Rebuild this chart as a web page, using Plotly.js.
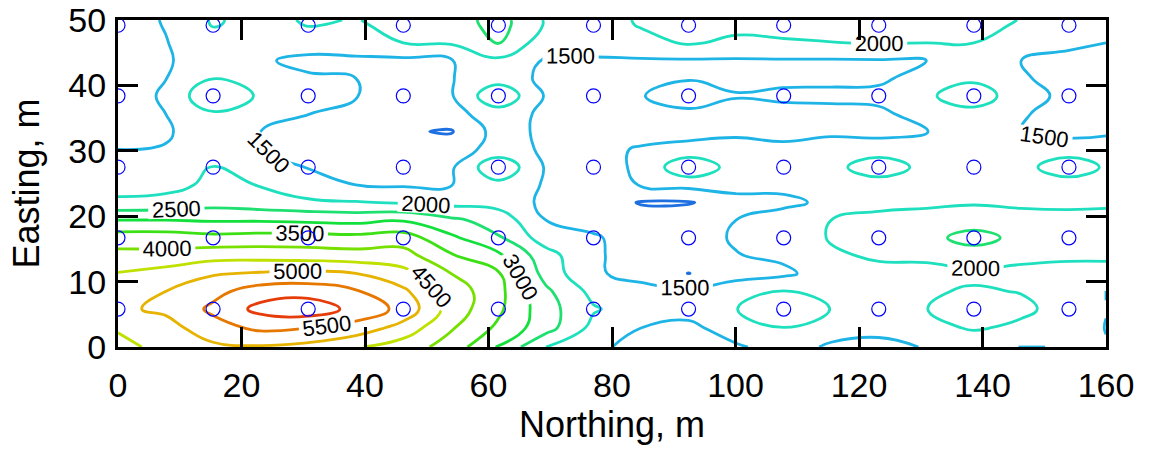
<!DOCTYPE html>
<html>
<head>
<meta charset="utf-8">
<script src="https://cdn.plot.ly/plotly-3.0.1.min.js"></script>
<style>html,body{margin:0;padding:0;background:#fff;} #chart{width:1149px;height:450px;}</style>
</head>
<body>
<div id="chart"></div>
<script>
// Interpolation grid (Northing = x, Easting = y), metres
const gridX = [0, 7.7, 15.4, 23.1, 30.8, 38.5, 46.2, 53.9, 61.6, 69.3, 77, 84.7, 92.4, 100.1, 107.8, 115.5, 123.2, 130.9, 138.6, 146.3, 154, 160];
const gridY = [0, 2.9, 5.8, 8.5, 11.25, 14, 16.7, 19.4, 22.1, 24.8, 27.5, 30.2, 32.95, 35.7, 38.4, 41.1, 43.8, 46.5, 49.2, 50];
// Values, one row per gridY entry
const zRows = [
  [4350, 4650, 4900, 4950, 4850, 4550, 4250, 3800, 2950, 2000, 1600, 1350, 1300, 1450, 1650, 1450, 1400, 1520, 1650, 1490, 1510, 1520],
  [4550, 4800, 5300, 5600, 5500, 5300, 4800, 4050, 3400, 2700, 1850, 1500, 1400, 1700, 1990, 1650, 1600, 1850, 2050, 1900, 1700, 1490],
  [4900, 5100, 5600, 6150, 6300, 5850, 5350, 4300, 3600, 2700, 2050, 1750, 1650, 1990, 2300, 1990, 1800, 1990, 2300, 2100, 1800, 1510],
  [4800, 5000, 5350, 5750, 5800, 5550, 5100, 4300, 3650, 2600, 1850, 1650, 1600, 1800, 2020, 1800, 1750, 1950, 2050, 1980, 1800, 1490],
  [4520, 4700, 4950, 5050, 5100, 5000, 4650, 4000, 3550, 2300, 1560, 1350, 990, 1300, 1400, 1750, 1900, 1850, 1900, 1900, 1900, 1900],
  [4150, 4150, 4300, 4300, 4250, 4200, 4200, 3550, 3100, 2200, 1550, 1350, 1350, 1480, 1600, 1950, 2050, 2100, 2300, 2100, 2050, 2050],
  [3750, 3750, 3650, 3700, 3700, 3650, 3750, 3100, 2550, 1750, 1550, 1300, 1300, 1550, 1750, 2030, 2250, 2380, 2650, 2380, 2200, 2150],
  [3000, 3000, 2950, 2950, 2900, 2850, 2950, 2600, 2300, 1500, 1350, 1200, 1250, 1500, 1700, 2000, 2150, 2200, 2300, 2200, 2150, 2100],
  [2100, 2150, 2300, 2200, 2080, 2030, 1950, 1850, 1800, 1400, 1250, 970, 970, 1200, 1400, 1600, 1850, 1900, 1950, 1900, 1900, 1950],
  [1800, 1850, 2100, 1980, 1700, 1500, 1450, 1480, 1850, 1450, 1350, 1520, 1640, 1800, 1620, 1750, 1640, 1750, 1720, 1800, 1640, 1750],
  [1650, 1800, 2030, 1750, 1480, 1380, 1350, 1420, 2430, 1450, 1350, 1560, 2450, 1760, 1700, 1760, 2450, 1760, 1700, 1760, 2450, 1900],
  [1500, 1510, 1700, 1500, 1400, 1300, 1200, 1300, 1660, 1450, 1350, 1550, 1640, 1800, 1600, 1750, 1640, 1750, 1650, 1750, 1640, 1750],
  [1400, 1480, 1600, 1500, 1350, 1200, 1050, 960, 1700, 1400, 1250, 1300, 1350, 1350, 1370, 1400, 1420, 1480, 1620, 1500, 1420, 1420],
  [1320, 1500, 1940, 1800, 1510, 1350, 1150, 1350, 1750, 1400, 1300, 1350, 1420, 1380, 1380, 1400, 1430, 1650, 1740, 1520, 1420, 1420],
  [1300, 1550, 2450, 1920, 1650, 1520, 1250, 1450, 2430, 1450, 1300, 1480, 1700, 1520, 1570, 1580, 1600, 1870, 2450, 1530, 1480, 1450],
  [1300, 1490, 1985, 1800, 1550, 1500, 1300, 1480, 1750, 1400, 1350, 1400, 1470, 1420, 1420, 1420, 1430, 1650, 1840, 1520, 1430, 1430],
  [1300, 1450, 1750, 1550, 1400, 1380, 1400, 1470, 1900, 1450, 1450, 1450, 1450, 1450, 1460, 1460, 1470, 1500, 1650, 1500, 1420, 1420],
  [1300, 1480, 1800, 1750, 1700, 1850, 2000, 2050, 2520, 1700, 1700, 1850, 2050, 1900, 1950, 1990, 2020, 2000, 2000, 1700, 1560, 1500],
  [1300, 1520, 2030, 1850, 2020, 1950, 2120, 2200, 2700, 1950, 1800, 2030, 2120, 2130, 2150, 2150, 2120, 2120, 2080, 1970, 1780, 1730],
  [1300, 1530, 2050, 1850, 2050, 1980, 2150, 2250, 2700, 1950, 1800, 2050, 2150, 2150, 2200, 2200, 2150, 2150, 2100, 1990, 1800, 1750]
];
// Measurement stations
const sampleX = [0, 15.4, 30.8, 46.2, 61.6, 77, 92.4, 107.8, 123.2, 138.6, 154];
const sampleY = [5.8, 16.7, 27.5, 38.4, 49.2];
// Contour levels and their line colours (1000 ... 6000 step 500)
const levelStart = 1000, levelEnd = 6000, levelStep = 500;
const levelColors = ['#1e6fe0', '#1eb4e6', '#1ee0be', '#1ee070', '#14e03c', '#3ce014', '#78e000', '#c0e000', '#e6b400', '#e67800', '#e63c0a'];
const xTicks = [0, 20, 40, 60, 80, 100, 120, 140, 160];
const yTicks = [0, 10, 20, 30, 40, 50];
const xTitle = 'Northing, m';
const yTitle = 'Easting, m';

const ptsX = [], ptsY = [];
sampleY.forEach(function (yy) { sampleX.forEach(function (xx) { ptsX.push(xx); ptsY.push(yy); }); });

const FONT = '"Liberation Sans", Arial, Helvetica, sans-serif';

const contourTrace = {
  type: 'contour',
  x: gridX, y: gridY, z: zRows,
  autocontour: false,
  zauto: false, zmin: levelStart, zmax: levelEnd,
  contours: {
    start: levelStart, end: levelEnd, size: levelStep,
    coloring: 'lines', showlabels: true, labelformat: 'd',
    labelfont: {family: FONT, size: 22, color: '#000'}
  },
  line: {width: 2.8, smoothing: 1.3},
  colorscale: levelColors.map(function (c, i) { return [i / (levelColors.length - 1), c]; }),
  showscale: false,
  hoverinfo: 'skip'
};

const pointTrace = {
  type: 'scatter', mode: 'markers',
  x: ptsX, y: ptsY,
  marker: {symbol: 'circle-open', size: 14, color: '#0000ff', line: {width: 1.2, color: '#0000ff'}},
  cliponaxis: true,
  hoverinfo: 'skip'
};

const axisCommon = {
  showline: true, linewidth: 3, linecolor: '#000', mirror: 'ticks',
  ticks: 'inside', ticklen: 20, tickwidth: 3, tickcolor: '#000',
  showgrid: false, zeroline: false,
  tickfont: {family: FONT, size: 34, color: '#000'}
};

const layout = {
  width: 1149, height: 450,
  margin: {l: 118, r: 43, t: 20, b: 103},
  paper_bgcolor: '#fff', plot_bgcolor: '#fff',
  showlegend: false,
  font: {family: FONT, color: '#000'},
  xaxis: Object.assign({}, axisCommon, {
    range: [0, 160], tickvals: xTicks, ticktext: xTicks.map(String),
    ticklabelstandoff: 6,
    title: {text: xTitle, font: {family: FONT, size: 36, color: '#000'}, standoff: 8}
  }),
  yaxis: Object.assign({}, axisCommon, {
    range: [0, 50], tickvals: yTicks, ticktext: yTicks.map(String),
    ticklabelstandoff: 2
  }),
  annotations: [{
    text: yTitle, textangle: -90, showarrow: false,
    xref: 'paper', yref: 'paper', x: -0.093, y: 0.5, xanchor: 'center', yanchor: 'middle',
    font: {family: FONT, size: 36, color: '#000'}
  }]
};

Plotly.newPlot('chart', [contourTrace, pointTrace], layout, {staticPlot: true, displayModeBar: false});
</script>
</body>
</html>
